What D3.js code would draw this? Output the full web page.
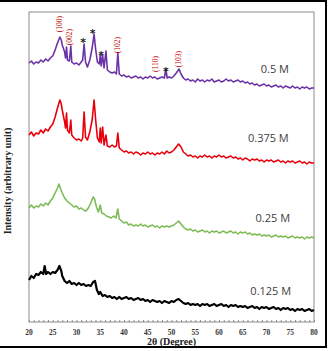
<!DOCTYPE html>
<html>
<head>
<meta charset="utf-8">
<script src="https://cdn.jsdelivr.net/npm/d3@7"></script>
<style>
  body { margin: 0; background: #fff; }
  svg { display: block; }
</style>
</head>
<body>
<svg width="329" height="351"></svg>
<script>
// XRD patterns, [2theta, intensity]
const p0125 = [[20,42],[20.5,46],[21,44],[21.5,48],[22,47],[22.5,50],[23,48],[23.3,56],[23.6,48],[24,50],[24.5,48],[25,50],[25.5,49],[26,52],[26.4,56],[26.8,51],[27,46],[27.5,41],[28,39],[28.5,41],[29,38],[29.5,39],[30,37],[30.5,39],[31,37],[31.5,38],[32,36],[32.5,37],[33,36],[33.5,40],[33.9,41],[34.3,32],[34.7,28],[35,30],[35.5,26],[36,27],[36.5,25],[37,26],[37.5,24],[38,25],[38.5,23],[39,25],[39.5,23],[40,24],[40.5,25],[41,23],[41.5,24],[42,22],[42.5,23],[43,24],[43.5,22],[44,23],[44.5,21],[45,22],[45.5,20],[46,22],[46.5,21],[47,20],[47.5,21],[48,19],[48.5,21],[49,20],[49.5,19],[50,21],[50.5,20],[51,22],[51.5,23],[52,21],[52.5,19],[53,18],[53.5,19],[54,17],[54.5,18],[55,17],[55.5,18],[56,16],[56.5,18],[57,17],[57.5,18],[58,16],[58.5,17],[59,18],[59.5,16],[60,17],[60.5,18],[61,16],[61.5,17],[62,15],[62.5,17],[63,16],[63.5,17],[64,15],[64.5,16],[65,15],[65.5,16],[66,14],[66.5,15],[67,16],[67.5,14],[68,15],[68.5,13],[69,15],[69.5,14],[70,15],[70.5,13],[71,14],[71.5,15],[72,13],[72.5,14],[73,12],[73.5,14],[74,13],[74.5,14],[75,12],[75.5,13],[76,11],[76.5,13],[77,12],[77.5,13],[78,11],[78.5,12],[79,13],[79.5,11],[80,12]];

const p025 = [[20,44],[20.5,47],[21,44],[21.5,46],[22,45],[22.5,48],[23,46],[23.5,49],[24,47],[24.5,51],[25,54],[25.5,59],[26,64],[26.3,68],[26.6,64],[27,59],[27.5,54],[28,51],[28.5,49],[29,47],[29.5,45],[30,46],[30.5,43],[31,44],[31.5,42],[32,41],[32.5,44],[33,49],[33.5,55],[33.8,53],[34.2,45],[34.6,40],[35,47],[35.3,39],[35.8,38],[36.3,36],[36.8,35],[37.3,34],[37.8,36],[38.3,34],[38.7,43],[39,33],[39.5,31],[40,29],[40.5,30],[41,27],[41.5,28],[42,26],[42.5,27],[43,26],[43.5,28],[44,26],[44.5,27],[45,25],[45.5,26],[46,27],[46.5,25],[47,26],[47.5,24],[48,26],[48.5,25],[49,26],[49.5,25],[50,26],[50.5,27],[51,29],[51.5,31],[52,28],[52.5,25],[53,23],[53.5,22],[54,23],[54.5,21],[55,22],[55.5,20],[56,21],[56.5,22],[57,20],[57.5,21],[58,19],[58.5,21],[59,20],[59.5,21],[60,19],[60.5,20],[61,21],[61.5,19],[62,20],[62.5,21],[63,19],[63.5,20],[64,18],[64.5,20],[65,19],[65.5,20],[66,18],[66.5,19],[67,17],[67.5,18],[68,17],[68.5,18],[69,16],[69.5,17],[70,16],[70.5,17],[71,15],[71.5,16],[72,17],[72.5,15],[73,16],[73.5,15],[74,16],[74.5,14],[75,15],[75.5,16],[76,14],[76.5,15],[77,14],[77.5,15],[78,13],[78.5,15],[79,14],[79.5,15],[80,14]];

const p0375 = [[20,47],[20.5,50],[21,46],[21.5,49],[22,48],[22.5,52],[23,49],[23.5,53],[24,51],[24.5,55],[25,58],[25.5,65],[26,74],[26.5,82],[26.8,78],[27,72],[27.5,60],[27.7,54],[27.9,69],[28.1,52],[28.5,49],[28.8,62],[29,47],[29.5,44],[30,42],[30.5,43],[31,41],[31.3,44],[31.6,70],[31.9,45],[32.3,42],[32.8,50],[33.3,62],[33.7,82],[34,64],[34.4,44],[34.8,40],[35,54],[35.2,39],[35.5,55],[35.8,37],[36.2,47],[36.5,36],[37,35],[37.5,37],[38,35],[38.4,36],[38.7,49],[39,34],[39.5,32],[40,30],[40.5,31],[41,29],[41.5,30],[42,28],[42.5,30],[43,29],[43.5,27],[44,29],[44.5,28],[45,30],[45.5,28],[46,29],[46.5,27],[47,29],[47.5,28],[48,30],[48.5,28],[49,31],[49.5,29],[50,30],[50.5,32],[51,35],[51.5,38],[52,35],[52.5,30],[53,28],[53.5,26],[54,27],[54.5,25],[55,26],[55.5,24],[56,26],[56.5,25],[57,27],[57.5,25],[58,26],[58.5,24],[59,26],[59.5,25],[60,27],[60.5,25],[61,26],[61.5,24],[62,25],[62.5,26],[63,24],[63.5,25],[64,23],[64.5,24],[65,22],[65.5,24],[66,23],[66.5,21],[67,23],[67.5,22],[68,23],[68.5,21],[69,22],[69.5,20],[70,22],[70.5,21],[71,22],[71.5,20],[72,21],[72.5,22],[73,20],[73.5,21],[74,19],[74.5,21],[75,20],[75.5,21],[76,19],[76.5,20],[77,21],[77.5,19],[78,20],[78.5,18],[79,20],[79.5,19],[80,19]];

const p05 = [[20,44],[20.5,46],[21,43],[21.5,45],[22,44],[22.5,47],[23,45],[23.5,48],[24,46],[24.5,49],[25,51],[25.5,57],[26,64],[26.5,70],[26.8,67],[27,62],[27.5,55],[27.7,49],[27.9,60],[28.1,47],[28.5,46],[28.8,61],[29,45],[29.5,43],[30,44],[30.5,42],[31,45],[31.3,47],[31.6,63],[31.9,45],[32.3,40],[32.8,47],[33.3,59],[33.7,73],[34,59],[34.4,45],[34.8,43],[35,52],[35.2,41],[35.5,52],[35.8,39],[36.2,56],[36.5,37],[37,35],[37.5,34],[38,35],[38.4,33],[38.7,54],[39,33],[39.5,31],[40,32],[40.5,30],[41,31],[41.5,29],[42,30],[42.5,31],[43,29],[43.5,30],[44,28],[44.5,30],[45,29],[45.5,31],[46,29],[46.5,30],[47,28],[47.5,29],[48,30],[48.5,29],[48.8,38],[49.1,29],[49.5,30],[50,29],[50.5,31],[51,34],[51.6,38],[52,33],[52.5,29],[53,27],[53.5,28],[54,26],[54.5,27],[55,25],[55.5,28],[56,26],[56.5,27],[57,25],[57.5,27],[58,26],[58.5,28],[59,25],[59.5,26],[60,27],[60.5,25],[61,26],[61.5,28],[62,26],[62.5,27],[63,25],[63.5,26],[64,27],[64.5,25],[65,26],[65.5,24],[66,25],[66.5,23],[67,24],[67.5,22],[68,23],[68.5,21],[69,22],[69.5,23],[70,21],[70.5,22],[71,20],[71.5,21],[72,22],[72.5,20],[73,21],[73.5,19],[74,21],[74.5,20],[75,19],[75.5,21],[76,19],[76.5,20],[77,18],[77.5,20],[78,19],[78.5,20],[79,18],[79.5,19],[80,19]];

const seriesNames = ["0.125 M", "0.25 M", "0.375 M", "0.5 M"];
const seriesData = [p0125, p025, p0375, p05];
const offsets = [0, 70, 140, 215];
const colors = ["#000000", "#7dbb55", "#e8000c", "#6a33a6"];
const widths = [2.2, 1.6, 1.6, 1.6];
const labelPos = [[66.6, 27], [67.7, 30], [66.1, 40], [68.8, 34]]; // [2theta, intensity above offset]

const xTicks = [20, 25, 30, 35, 40, 45, 50, 55, 60, 65, 70, 75, 80];

// peak annotations on the 0.5 M pattern
const hklLabels = ["(100)", "(002)", "(102)", "(110)", "(103)"];
const hklTheta = [26.5, 28.6, 38.7, 46.6, 51.4];
const hklValue = [298, 285, 277, 258, 263];
const starTheta = [31.4, 33.4, 35.2, 48.8];
const starValue = [281, 290, 268, 252];

const svg = d3.select("svg");
const margin = { top: 12, right: 15, bottom: 29, left: 29 },
      width = 329 - margin.left - margin.right,
      height = 351 - margin.top - margin.bottom;

const x = d3.scaleLinear().domain([20, 80]).range([margin.left, margin.left + width]);
const y = d3.scaleLinear().domain([0, 310]).range([margin.top + height, margin.top]);

// outer frame
svg.append("path")
  .attr("d", "M0,1 H326 V347 H0")
  .attr("fill", "none")
  .attr("stroke", "#000")
  .attr("stroke-width", 2);

// plot box
svg.append("rect")
  .attr("x", margin.left)
  .attr("y", margin.top)
  .attr("width", width)
  .attr("height", height)
  .attr("fill", "none")
  .attr("stroke", "#8c8c8c")
  .attr("stroke-width", 1);

// bottom axis: minor ticks every degree pointing inward, labels every 5
const xAxis = svg.append("g")
  .attr("transform", `translate(0,${margin.top + height})`)
  .call(d3.axisBottom(x).tickValues(d3.range(20, 81, 1)).tickSize(-2).tickFormat(""));
xAxis.select(".domain").remove();
xAxis.selectAll("line").attr("stroke", "#8c8c8c");

svg.append("g")
  .selectAll("text")
  .data(xTicks)
  .join("text")
  .attr("x", d => x(d))
  .attr("y", 335)
  .attr("text-anchor", "middle")
  .style("font", "bold 7.5px 'Liberation Serif', serif")
  .attr("fill", "#333")
  .text(d => d);

svg.append("text")
  .attr("x", x(50))
  .attr("y", 345)
  .attr("text-anchor", "middle")
  .style("font", "bold 10px 'Liberation Serif', serif")
  .attr("fill", "#222")
  .text("2θ (Degree)");

svg.append("text")
  .attr("transform", `translate(11,${margin.top + height / 2 + 14}) rotate(-90)`)
  .attr("text-anchor", "middle")
  .style("font", "bold 10px 'Liberation Serif', serif")
  .attr("fill", "#222")
  .text("Intensity (arbitrary unit)");

const line = d3.line()
  .x(d => x(d[0]))
  .y(d => y(d[1]));

seriesData.forEach((data, i) => {
  svg.append("path")
    .datum(data.map(d => [d[0], d[1] + offsets[i]]))
    .attr("fill", "none")
    .attr("stroke", colors[i])
    .attr("stroke-width", widths[i])
    .attr("stroke-linejoin", "round")
    .attr("d", line);

  svg.append("text")
    .attr("x", x(labelPos[i][0]))
    .attr("y", y(labelPos[i][1] + offsets[i]))
    .style("font", "11px 'Open Sans', sans-serif")
    .attr("fill", "#404040")
    .text(seriesNames[i]);
});

hklLabels.forEach((t, i) => {
  svg.append("text")
    .attr("transform", `translate(${x(hklTheta[i]) + 2.5},${y(hklValue[i])}) rotate(-90)`)
    .attr("text-anchor", "middle")
    .style("font", "7.5px 'Liberation Serif', serif")
    .attr("fill", "#c00000")
    .text(t);
});

svg.append("g")
  .selectAll("text")
  .data(starTheta)
  .join("text")
  .attr("x", d => x(d))
  .attr("y", (d, i) => y(starValue[i]) + 5)
  .attr("text-anchor", "middle")
  .style("font", "bold 11px 'DejaVu Sans', sans-serif")
  .attr("fill", "#222")
  .text("*");
</script>
</body>
</html>
